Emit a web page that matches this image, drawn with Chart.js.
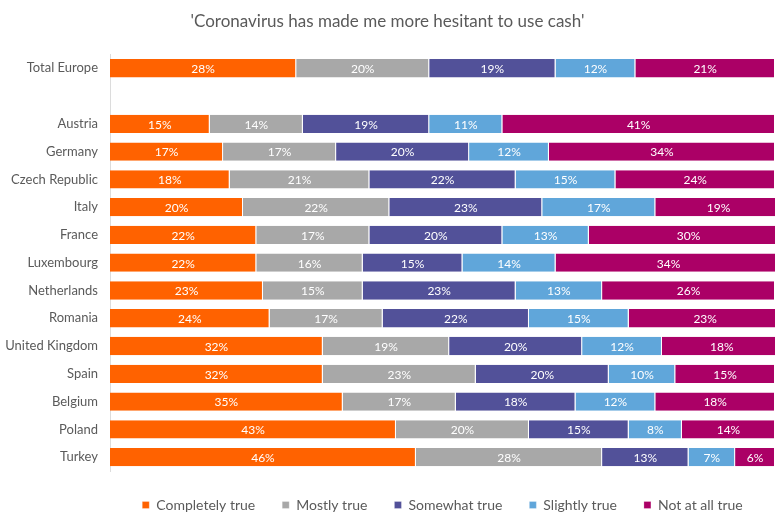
<!DOCTYPE html>
<html lang="en">
<head>
    <meta charset="UTF-8">
    <title>Coronavirus and cash</title>
    <script src="https://cdn.jsdelivr.net/npm/chart.js"></script>
    <style>
        html, body { margin: 0; padding: 0; background: #fff; }
        #wrap { width: 776px; height: 514px; }
    </style>
</head>
<body>
    <div id="wrap"><canvas id="cashChart"></canvas></div>

    <script>
        // Countries (blank row separates the European total)
        const countries = ['Total Europe', '', 'Austria', 'Germany', 'Czech Republic', 'Italy', 'France',
            'Luxembourg', 'Netherlands', 'Romania', 'United Kingdom', 'Spain', 'Belgium', 'Poland', 'Turkey'];

        const completelyTrue = [28, null, 15, 17, 18, 20, 22, 22, 23, 24, 32, 32, 35, 43, 46];
        const mostlyTrue     = [20, null, 14, 17, 21, 22, 17, 16, 15, 17, 19, 23, 17, 20, 28];
        const somewhatTrue   = [19, null, 19, 20, 22, 23, 20, 15, 23, 22, 20, 20, 18, 15, 13];
        const slightlyTrue   = [12, null, 11, 12, 15, 17, 13, 14, 13, 15, 12, 10, 12, 8, 7];
        const notAtAllTrue   = [21, null, 41, 34, 24, 19, 30, 34, 26, 23, 18, 15, 18, 14, 6];

        const fontFamily = 'Lato, "Open Sans", sans-serif';
        const textGrey = '#5a5a5a';

        // writes the percentage in the middle of every segment
        const segmentLabels = {
            id: 'segmentLabels',
            afterDatasetsDraw(chart) {
                const ctx = chart.ctx;
                ctx.save();
                ctx.font = '12px ' + fontFamily;
                ctx.fillStyle = '#fff';
                ctx.textAlign = 'center';
                ctx.textBaseline = 'middle';
                chart.data.datasets.forEach((ds, i) => {
                    chart.getDatasetMeta(i).data.forEach((bar, j) => {
                        const v = ds.data[j];
                        if (v == null) return;
                        const p = bar.getProps(['x', 'y', 'base'], true);
                        ctx.fillText(v + '%', (p.x + p.base) / 2, p.y + 1);
                    });
                });
                ctx.restore();
            }
        };

        // legend: wide item spacing but a short box, centred under the bars
        const legendTweaks = {
            id: 'legendTweaks',
            beforeLayout(chart) {
                const lg = chart.legend;
                if (!lg || lg._shortFit) return;
                const fit = lg.fit;
                lg.fit = function () {
                    fit.call(this);
                    this.height = 43;
                };
                lg._shortFit = true;
            },
            afterLayout(chart) {
                const lg = chart.legend;
                const shift = (chart.chartArea.left + chart.chartArea.right) / 2 - (lg.left + lg.right) / 2;
                lg.left += shift;
                lg.right += shift;
            }
        };

        function series(label, data, color) {
            return {
                label: label,
                data: data,
                backgroundColor: color,
                borderColor: '#fff',
                borderWidth: { left: 0, right: 1, top: 0, bottom: 0 },
                borderSkipped: false,
                barPercentage: 0.66,
                categoryPercentage: 1
            };
        }

        new Chart(document.getElementById('cashChart'), {
            type: 'bar',
            data: {
                labels: countries,
                datasets: [
                    series('Completely true', completelyTrue, '#ff6200'),
                    series('Mostly true', mostlyTrue, '#a8a8a8'),
                    series('Somewhat true', somewhatTrue, '#525199'),
                    series('Slightly true', slightlyTrue, '#60a6da'),
                    series('Not at all true', notAtAllTrue, '#ab0066')
                ]
            },
            plugins: [segmentLabels, legendTweaks],
            options: {
                indexAxis: 'y',
                responsive: true,
                maintainAspectRatio: false,
                animation: false,
                layout: { padding: { left: 0, right: 1, top: 0, bottom: 0 } },
                scales: {
                    x: {
                        stacked: true,
                        display: false,
                        min: 0,
                        max: 100
                    },
                    y: {
                        stacked: true,
                        grid: { display: false, drawTicks: false },
                        border: { display: true, color: '#dcdcdc' },
                        ticks: {
                            color: textGrey,
                            padding: 12,
                            font: { family: fontFamily, size: 13 }
                        },
                        afterFit(axis) { axis.width = 110; }
                    }
                },
                plugins: {
                    title: {
                        display: true,
                        text: "'Coronavirus has made me more hesitant to use cash'",
                        color: textGrey,
                        font: { family: fontFamily, size: 17, weight: 'normal' },
                        padding: { top: 11, bottom: 23 }
                    },
                    legend: {
                        position: 'bottom',
                        labels: {
                            color: textGrey,
                            boxWidth: 7,
                            boxHeight: 7,
                            padding: 27,
                            font: { family: fontFamily, size: 14 }
                        }
                    },
                    tooltip: { enabled: false }
                }
            }
        });
    </script>
</body>
</html>
